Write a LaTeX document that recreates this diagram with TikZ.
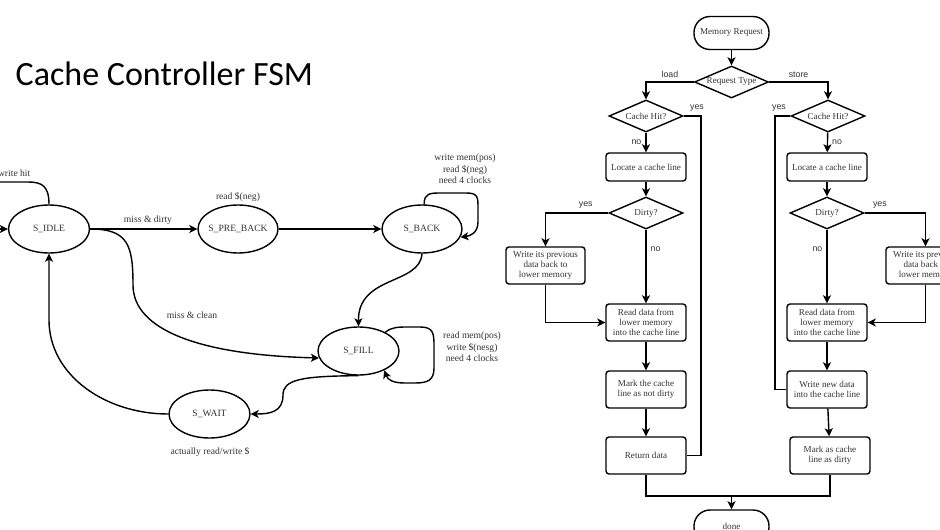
\documentclass[tikz,border=0pt]{standalone}
\usepackage{fontspec}
\setmainfont{Liberation Serif}
\newfontfamily\sansf{Liberation Sans}
\newfontfamily\titlef{Carlito}
\usetikzlibrary{shapes.geometric,arrows.meta}
\definecolor{txt}{HTML}{333333}
\begin{document}
\begin{tikzpicture}[x=1pt,y=-1pt,line width=1.4pt,
 arr/.style={-{Stealth[length=8pt,width=8pt,inset=2pt]}},
 st/.style={ellipse,draw,minimum width=81pt,minimum height=48pt,inner sep=0pt,font=\fontsize{9.6}{11}\selectfont,text=txt},
 lbl/.style={font=\fontsize{9.6}{11.7}\selectfont,text=txt,align=center,inner sep=0pt},
 box/.style={draw,rounded corners=3pt,minimum width=80pt,minimum height=37pt,inner sep=0pt,align=center,font=\fontsize{9.1}{10.3}\selectfont,text=txt},
 dia/.style={diamond,draw,minimum width=74pt,minimum height=32pt,inner sep=0pt,aspect=2.3,font=\fontsize{9.1}{10}\selectfont,text=txt},
 term/.style={draw,rounded corners=16pt,minimum width=75pt,minimum height=33pt,inner sep=0pt,font=\fontsize{9.1}{10}\selectfont,text=txt},
 yn/.style={font=\sansf\fontsize{8.8}{10}\selectfont,text=txt,inner sep=0pt}]
\useasboundingbox (0,0) rectangle (940,530);

% ---------- title ----------
\node[font=\titlef\fontsize{34}{40}\selectfont,anchor=base west,inner sep=0pt] (title) at (15,85) {Cache Controller FSM};

% ---------- FSM ----------
\node[st] (sidle) at (49,229) {\makebox[0pt]{S\_IDLE}};
\node[st,minimum width=80pt] (spre) at (238,229) {\makebox[0pt]{S\_PRE\_BACK}};
\node[st,minimum width=80pt] (sback) at (422,229) {\makebox[0pt]{S\_BACK}};
\node[st] (sfill) at (358.5,351) {\makebox[0pt]{S\_FILL}};
\node[st] (swait) at (209.5,414) {\makebox[0pt]{S\_WAIT}};

\node[lbl,anchor=east] (lwh) at (31,173) {write hit};
\node[lbl] (lmd) at (148,220) {miss \& dirty};
\node[lbl] (lrn) at (238,197) {read \$(neg)};
\node[lbl] (lbk) at (465,169) {write mem(pos)\\read \$(neg)\\need 4 clocks};
\node[lbl] (lmc) at (192,315) {miss \& clean};
\node[lbl] (lfl) at (472,347) {read mem(pos)\\write \$(nesg)\\need 4 clocks};
\node[lbl] (lwt) at (210,452) {actually read/write \$};

\coordinate (in0) at (-3,229);
\coordinate (wh) at (-3,182);
\draw[arr] (in0) -- (sidle.west);
\draw (sidle.north) .. controls (49,186) and (42,182) .. (28,182) -- (wh);
\draw[arr] (sidle.east) -- (spre.west);
\draw[arr] (spre.east) -- (sback.west);
\draw[arr] (sback.85) .. controls (424,193) and (430,193) .. (442,193) -- (466,193)
  .. controls (478,193) and (478,197) .. (478,208) -- (478,222)
  .. controls (478,233) and (470,236) .. (sback.-12);
\draw[arr] (sidle.east) .. controls (128,229) and (133,245) .. (133,285)
  .. controls (133,330) and (200,355) .. (sfill.190);
\draw[arr] (sback.south) .. controls (420,285) and (358,275) .. (sfill.north);
\draw[arr] (sfill.35) .. controls (392,327) and (398,327) .. (408,327) -- (420,327)
  .. controls (433,327) and (434,333) .. (434,345) -- (434,368)
  .. controls (434,380) and (428,383) .. (415,383) -- (405,383)
  .. controls (393,383) and (388,380) .. (sfill.-37);
\draw[arr] (sfill.south) .. controls (300,376) and (283,380) .. (283,395)
  .. controls (283,412) and (270,414) .. (swait.east);
\draw[arr] (swait.west) .. controls (105,414) and (49,375) .. (49,320) -- (sidle.south);

% ---------- flowchart ----------
\node[term] (mr) at (731.5,33) {Memory Request};
\node[dia] (rt) at (731.5,82) {Request Type};
\node[dia] (chl) at (646,116) {Cache Hit?};
\node[dia] (chr) at (828,116) {Cache Hit?};
\node[box,minimum height=28pt] (locl) at (646,167) {Locate a cache line};
\node[box,minimum height=28pt] (locr) at (827,167) {Locate a cache line};
\node[dia] (dl) at (646,213) {Dirty?};
\node[dia] (dr) at (827,213) {Dirty?};
\node[box,minimum width=79pt] (wbl) at (545.5,265.5) {Write its previous\\data back to\\lower memory};
\node[box,minimum width=79pt] (wbr) at (925.5,265.5) {Write its previous\\data back to\\lower memory};
\node[box] (rdl) at (646,322.5) {Read data from\\lower memory\\into the cache line};
\node[box] (rdr) at (827,322.5) {Read data from\\lower memory\\into the cache line};
\node[box] (mk) at (646,389.5) {Mark the cache\\line as not dirty};
\node[box] (wn) at (827,389.5) {Write new data\\into the cache line};
\node[box] (ret) at (646,455.5) {Return data};
\node[box] (mkd) at (830,455.5) {Mark as cache\\line as dirty};
\node[term] (done) at (731.5,526.5) {done};

\draw[arr] (mr) -- (rt);
\draw[arr] (rt.west) -| (chl.north) node[yn,pos=0.25,above=4pt] {load};
\draw[arr] (rt.east) -| (chr.north) node[yn,pos=0.25,above=4pt] {store};
\coordinate (yl) at (701,116);
\coordinate (yr) at (775,116);
\draw (chl.east) -- (yl) |- (ret.east);
\node[yn] (lyl) at (697,108) {yes};
\draw (chr.west) -- (yr) |- (wn.west);
\node[yn] (lyr) at (779,108) {yes};
\draw[arr] (chl) -- (locl) node[yn,midway,left=4pt] {no};
\draw[arr] (chr) -- (locr) node[yn,midway,right=4pt] {no};
\draw[arr] (locl) -- (dl);
\draw[arr] (locr) -- (dr);
\draw[arr] (dl.west) -| (wbl.north) node[yn,pos=0.18,above=4pt] {yes};
\draw[arr] (dr.east) -| (wbr.north) node[yn,pos=0.125,above=4pt] {yes};
\draw[arr] (dl) -- (rdl) node[yn,pos=0.27,right=4pt] {no};
\draw[arr] (dr) -- (rdr) node[yn,pos=0.27,left=4pt] {no};
\draw[arr] (wbl.south) |- (rdl.west);
\draw[arr] (wbr.south) |- (rdr.east);
\draw[arr] (rdl) -- (mk);
\draw[arr] (mk) -- (ret);
\draw[arr] (rdr) -- (wn);
\draw[arr] (wn) -- (mkd);
\coordinate (j) at (731.5,496);
\draw (ret.south) |- (j) -| (mkd.south);
\draw[arr] (j) -- (done);
\end{tikzpicture}
\end{document}
